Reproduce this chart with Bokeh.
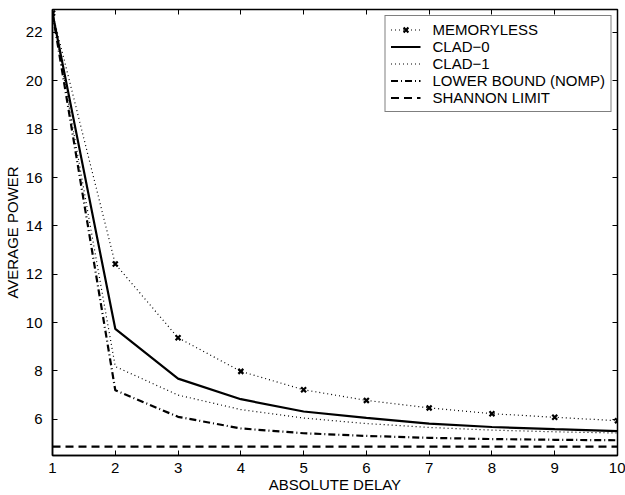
from bokeh.plotting import figure
from bokeh.models import LinearAxis, Legend, LegendItem, FixedTicker, Range1d
from bokeh.embed import file_html
from bokeh.resources import INLINE

delay = [1, 2, 3, 4, 5, 6, 7, 8, 9, 10]
memoryless = [22.8, 12.42, 9.37, 7.98, 7.22, 6.78, 6.47, 6.23, 6.08, 5.94]
clad0 = [22.8, 9.74, 7.68, 6.83, 6.32, 6.06, 5.82, 5.68, 5.59, 5.51]
clad1 = [22.8, 8.18, 7.0, 6.4, 6.05, 5.82, 5.66, 5.55, 5.48, 5.43]
lower_bound = [22.8, 7.2, 6.1, 5.62, 5.42, 5.31, 5.23, 5.18, 5.15, 5.13]
shannon = [4.87] * 10

x_ticks = list(range(1, 11))
y_ticks = [6, 8, 10, 12, 14, 16, 18, 20, 22]

FONT = "Liberation Sans"

p = figure(width=625, height=495, output_backend="svg", toolbar_location=None,
           x_range=Range1d(1, 10), y_range=Range1d(4.5, 22.95),
           min_border_left=49, min_border_right=8, min_border_top=9, min_border_bottom=38)
p.background_fill_color = "white"
p.border_fill_color = "white"
p.outline_line_color = "black"
p.outline_line_width = 1.5
p.grid.visible = False

for ax in (p.xaxis[0], p.yaxis[0]):
    ax.major_tick_in = 5
    ax.major_tick_out = 0
    ax.minor_tick_in = 0
    ax.minor_tick_out = 0
    ax.axis_line_color = "black"
    ax.axis_line_width = 1.5
    ax.major_label_text_font = FONT
    ax.major_label_text_font_size = "15px"
    ax.major_label_text_color = "black"
    ax.axis_label_text_font = FONT
    ax.axis_label_text_font_size = "15px"
    ax.axis_label_text_font_style = "normal"
    ax.axis_label_text_color = "black"

p.xaxis[0].ticker = FixedTicker(ticks=x_ticks)
p.yaxis[0].ticker = FixedTicker(ticks=y_ticks)
p.xaxis[0].axis_label = "ABSOLUTE DELAY"
p.yaxis[0].axis_label = "AVERAGE POWER"
p.xaxis[0].major_label_standoff = 7
p.xaxis[0].axis_label_standoff = 0
p.yaxis[0].major_label_standoff = 10
p.yaxis[0].axis_label_standoff = 2

top_ax = LinearAxis(ticker=FixedTicker(ticks=x_ticks),
                    major_label_overrides={t: "" for t in x_ticks})
right_ax = LinearAxis(ticker=FixedTicker(ticks=y_ticks),
                      major_label_overrides={t: "" for t in y_ticks})
for ax in (top_ax, right_ax):
    ax.major_tick_in = 5
    ax.major_tick_out = 0
    ax.minor_tick_in = 0
    ax.minor_tick_out = 0
    ax.major_label_standoff = 0
    ax.axis_line_color = None
p.add_layout(top_ax, "above")
p.add_layout(right_ax, "right")

r_mem_line = p.line(delay, memoryless, line_color="black", line_width=1.2, line_dash="1 3")
r_mem_pts = p.scatter(delay, memoryless, marker="x", size=7, line_color="black", line_width=2.2)
r_c0 = p.line(delay, clad0, line_color="black", line_width=2.2)
r_c1 = p.line(delay, clad1, line_color="black", line_width=1.2, line_dash="1 3")
r_lb = p.line(delay, lower_bound, line_color="black", line_width=2.2, line_dash="7 3 1 3")
r_sh = p.line(delay, shannon, line_color="black", line_width=2.2, line_dash="8 5")

legend = Legend(items=[
    LegendItem(label="MEMORYLESS", renderers=[r_mem_line, r_mem_pts]),
    LegendItem(label="CLAD\u22120", renderers=[r_c0]),
    LegendItem(label="CLAD\u22121", renderers=[r_c1]),
    LegendItem(label="LOWER BOUND (NOMP)", renderers=[r_lb]),
    LegendItem(label="SHANNON LIMIT", renderers=[r_sh]),
], location="top_right")
legend.label_text_font = FONT
legend.label_text_font_size = "15px"
legend.label_text_color = "black"
legend.border_line_color = "black"
legend.border_line_width = 1
legend.background_fill_alpha = 1
legend.spacing = 0
legend.label_height = 17
legend.glyph_height = 17
legend.glyph_width = 30
legend.label_standoff = 12
legend.padding = 5
legend.margin = 6
p.add_layout(legend)

open("out.html", "w").write(file_html(p, INLINE))
